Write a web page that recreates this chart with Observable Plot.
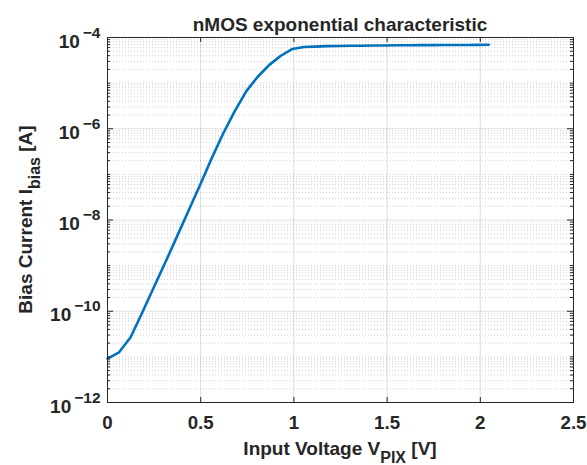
<!DOCTYPE html>
<html><head><meta charset="utf-8">
<script src="https://cdn.jsdelivr.net/npm/d3@7"></script>
<script src="https://cdn.jsdelivr.net/npm/@observablehq/plot@0.6"></script>
<style>body{margin:0;background:#fff}svg{display:block}</style>
</head><body><div id="chart"></div>
<script>
// Input voltage V_PIX [V]
const voltage = [0, 0.062, 0.124, 0.186, 0.248, 0.310, 0.372, 0.434, 0.496, 0.558,
  0.620, 0.682, 0.744, 0.806, 0.868, 0.930, 0.992, 1.054, 1.116, 1.178,
  1.240, 1.302, 1.364, 1.426, 1.488, 1.550, 1.612, 1.674, 1.736, 1.798,
  1.860, 1.922, 1.984, 2.046];
// Bias current I_bias [A]
const current = [9.12e-12, 1.26e-11, 2.69e-11, 9.3e-11, 3.31e-10, 1.17e-9, 4.27e-9, 1.58e-8, 5.75e-8, 2.19e-7,
  7.76e-7, 2.40e-6, 6.61e-6, 1.38e-5, 2.51e-5, 3.98e-5, 5.62e-5, 6.17e-5, 6.31e-5, 6.46e-5,
  6.53e-5, 6.61e-5, 6.61e-5, 6.68e-5, 6.68e-5, 6.76e-5, 6.76e-5, 6.79e-5, 6.82e-5, 6.84e-5,
  6.85e-5, 6.87e-5, 6.89e-5, 6.92e-5];

const xTicks = [0, 0.5, 1, 1.5, 2, 2.5];
const xGrid = [0.5, 1, 1.5, 2];
const yMajor = [1e-12, 1e-10, 1e-8, 1e-6, 1e-4];
const yMinorMultipliers = [1, 2, 3, 4, 5, 6, 7, 8, 9];
const yMinorDecades = [1e-12, 1e-11, 1e-10, 1e-9, 1e-8, 1e-7, 1e-6, 1e-5];

const titleText = "nMOS exponential characteristic";
const xLabel = ["Input Voltage V", "PIX", " [V]"];
const yLabel = ["Bias Current I", "bias", " [A]"];

const yMinor = [];
for (const d of yMinorDecades) for (const m of yMinorMultipliers) {
  const v = +(m * d).toPrecision(3);
  if (!yMajor.includes(v)) yMinor.push(v);
}

const data = voltage.map((v, i) => ({v, i: current[i]}));

const W = 587, H = 465;
const mL = 107, mR = 14, mT = 37, mB = 63;
const pw = W - mL - mR, ph = H - mT - mB;
const ink = "#262626";

const svg = Plot.plot({
  width: W, height: H,
  marginLeft: mL, marginRight: mR, marginTop: mT, marginBottom: mB,
  style: {fontFamily: "Liberation Sans, Arial, sans-serif", fontWeight: "bold", fontSize: "19px", color: ink, background: "#fff"},
  x: {domain: [0, 2.5], label: null},
  y: {type: "log", domain: [1e-12, 1e-4], label: null},
  marks: [
    Plot.gridY(yMinor, {stroke: ink, strokeOpacity: 0.22, strokeDasharray: "1,2"}),
    Plot.gridY(yMajor, {stroke: ink, strokeOpacity: 0.15}),
    Plot.gridX(xGrid, {stroke: ink, strokeOpacity: 0.15}),
    Plot.line(data, {x: "v", y: "i", stroke: "#0072BD", strokeWidth: 2.6}),
    Plot.ruleY(yMajor, {stroke: ink, insetRight: pw - 6}),
    Plot.ruleY(yMajor, {stroke: ink, insetLeft: pw - 6}),
    Plot.ruleY(yMinor, {stroke: ink, insetRight: pw - 3}),
    Plot.ruleY(yMinor, {stroke: ink, insetLeft: pw - 3}),
    Plot.ruleX(xTicks, {stroke: ink, insetTop: ph - 5}),
    Plot.ruleX(xTicks, {stroke: ink, insetBottom: ph - 5}),
    Plot.frame({stroke: ink}),
    Plot.axisX(xTicks, {label: null, tickSize: 0, tickPadding: 13, tickFormat: d => String(d), fontSize: 18.7, fill: ink}),
    Plot.axisY(yMajor, {label: null, tickSize: 0, tickPadding: 7, dy: 4, fill: ink,
      tickFormat: d => String(Math.round(-Math.log10(d)))})
  ]
});

const s = d3.select(svg);
s.selectAll('g[aria-label="y-axis tick label"] text').each(function() {
  const e = this.textContent;
  const t = d3.select(this);
  t.text("10");
  t.append("tspan").attr("dy", "-10").attr("dx", "3").attr("font-size", "15.5px").text("\u2212" + e);
});

const txt = (x, y) => s.append("text").attr("x", x).attr("y", y)
  .attr("font-family", "Liberation Sans, Arial, sans-serif").attr("font-weight", "bold")
  .attr("font-size", "19px").attr("fill", ink).attr("text-anchor", "middle");

txt(mL + pw / 2, 30.5).text(titleText);

const xl = txt(mL + pw / 2, 455);
xl.append("tspan").text(xLabel[0]);
xl.append("tspan").attr("dy", 8).attr("font-size", "16px").text(xLabel[1]);
xl.append("tspan").attr("dy", -8).text(xLabel[2]);

const yl = txt(0, 0).attr("transform", `translate(32,${mT + ph / 2}) rotate(-90)`);
yl.append("tspan").text(yLabel[0]);
yl.append("tspan").attr("dy", 8).attr("font-size", "16px").text(yLabel[1]);
yl.append("tspan").attr("dy", -8).text(yLabel[2]);

document.getElementById("chart").appendChild(svg);
</script>
</body></html>
